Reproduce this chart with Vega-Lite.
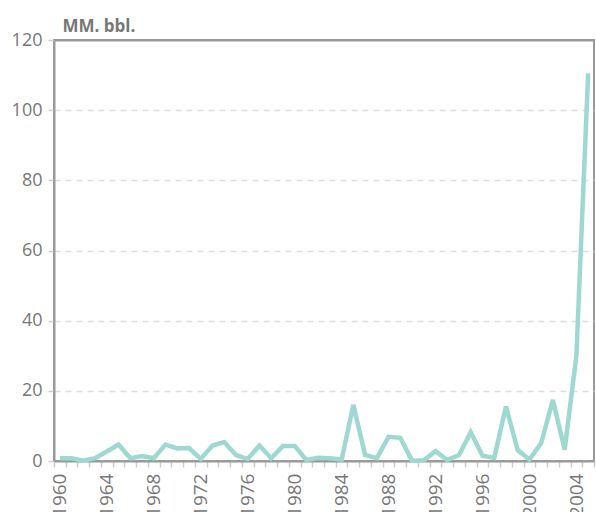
{
  "$schema": "https://vega.github.io/schema/vega-lite/v6.json",
  "width": 540,
  "height": 421,
  "autosize": {"type": "none"},
  "padding": {"left": 54, "top": 40, "right": 2, "bottom": 51},
  "background": "white",
  "config": {
    "font": "Open Sans",
    "view": {"stroke": "#999", "strokeWidth": 2}
  },
  "data": {
    "values": [
      {"year": 1960, "v": 0.8}, {"year": 1961, "v": 0.8}, {"year": 1962, "v": 0.1}, {"year": 1963, "v": 0.8},
      {"year": 1964, "v": 2.7}, {"year": 1965, "v": 4.7}, {"year": 1966, "v": 0.8}, {"year": 1967, "v": 1.4},
      {"year": 1968, "v": 0.8}, {"year": 1969, "v": 4.7}, {"year": 1970, "v": 3.6}, {"year": 1971, "v": 3.7},
      {"year": 1972, "v": 0.6}, {"year": 1973, "v": 4.4}, {"year": 1974, "v": 5.4}, {"year": 1975, "v": 1.7},
      {"year": 1976, "v": 0.6}, {"year": 1977, "v": 4.4}, {"year": 1978, "v": 0.8}, {"year": 1979, "v": 4.3},
      {"year": 1980, "v": 4.3}, {"year": 1981, "v": 0.3}, {"year": 1982, "v": 0.9}, {"year": 1983, "v": 0.8},
      {"year": 1984, "v": 0.4}, {"year": 1985, "v": 16}, {"year": 1986, "v": 1.7}, {"year": 1987, "v": 0.8},
      {"year": 1988, "v": 6.9}, {"year": 1989, "v": 6.6}, {"year": 1990, "v": 0.1}, {"year": 1991, "v": 0.2},
      {"year": 1992, "v": 2.8}, {"year": 1993, "v": 0.3}, {"year": 1994, "v": 1.7}, {"year": 1995, "v": 8.2},
      {"year": 1996, "v": 1.5}, {"year": 1997, "v": 0.9}, {"year": 1998, "v": 15.5}, {"year": 1999, "v": 3.1},
      {"year": 2000, "v": 0.4}, {"year": 2001, "v": 5.1}, {"year": 2002, "v": 17.4}, {"year": 2003, "v": 3.2},
      {"year": 2004, "v": 30}, {"year": 2005, "v": 110.5}
    ]
  },
  "mark": {"type": "line", "color": "#9dd9d1", "strokeWidth": 4.5, "strokeJoin": "miter"},
  "encoding": {
    "x": {
      "field": "year",
      "type": "ordinal",
      "bandPosition": 0.5,
      "scale": {"type": "band", "paddingInner": 0, "paddingOuter": 0},
      "axis": {
        "title": null,
        "labelAngle": 270,
        "labelExpr": "datum.value % 4 == 0 ? datum.label : ''",
        "labelOverlap": false,
        "labelFontSize": 19,
        "labelColor": "#777",
        "labelPadding": 6,
        "tickBand": "extent",
        "tickColor": "#ccc",
        "tickSize": 6,
        "tickWidth": 1.5,
        "domainColor": "#999",
        "domainWidth": 2,
        "grid": false
      }
    },
    "y": {
      "field": "v",
      "type": "quantitative",
      "scale": {"domain": [0, 120], "nice": false},
      "axis": {
        "values": [0, 20, 40, 60, 80, 100, 120],
        "title": "MM. bbl.",
        "titleAngle": 0,
        "titleAlign": "left",
        "titleBaseline": "alphabetic",
        "titleX": 8,
        "titleY": -9,
        "titleFontSize": 17,
        "titleFontWeight": "bold",
        "titleColor": "#777",
        "labelFontSize": 18,
        "labelColor": "#777",
        "labelPadding": 6,
        "tickColor": "#ccc",
        "tickSize": 6,
        "tickWidth": 1.5,
        "domainColor": "#999",
        "domainWidth": 2,
        "grid": true,
        "gridColor": {"condition": {"test": "datum.value == 120", "value": "#999"}, "value": "#ddd"},
        "gridDash": {"condition": {"test": "datum.value == 120", "value": []}, "value": [6, 5]},
        "gridWidth": {"condition": {"test": "datum.value == 120", "value": 2}, "value": 1.5}
      }
    }
  }
}
